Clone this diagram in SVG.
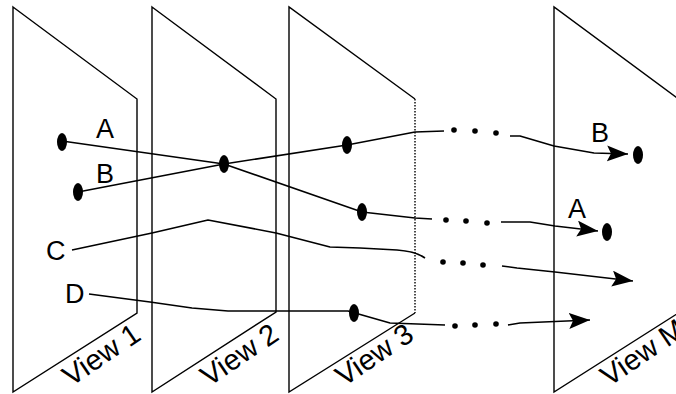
<svg xmlns="http://www.w3.org/2000/svg" width="676" height="394" viewBox="0 0 676 394">
<style>
.panel{fill:none;stroke:#000;stroke-width:1.4;stroke-linejoin:miter}
.conn{fill:none;stroke:#000;stroke-width:1.6;stroke-linejoin:round}
.pt{fill:#000}
.dot{fill:#000}
.lbl{font-family:"Liberation Sans",Arial,sans-serif;font-size:27px;fill:#000}
.view{font-family:"Liberation Sans",Arial,sans-serif;font-size:29px;fill:#000}
</style>
<defs>
<marker id="arr" markerUnits="userSpaceOnUse" markerWidth="24" markerHeight="18" refX="21" refY="8" orient="auto">
<path d="M0,0 L21,8 L0,16 L4,8 z" fill="#000"/>
</marker>
</defs>
<rect width="676" height="394" fill="#fff"/>
<g id="view1">
<path class="panel" d="M13,7 L137,99 L137,313 L13,392 Z"/>
<text class="view" transform="translate(71,387) rotate(-34)">View 1</text>
</g>
<g id="view2">
<path class="panel" d="M152,7 L276,99 L276,312 L152,392 Z"/>
<text class="view" transform="translate(209,387) rotate(-34)">View 2</text>
</g>
<g id="view3">
<path class="panel" d="M415,99 L289,7 L289,392 L415,313"/>
<path class="panel" d="M415,99 L415,313" stroke-dasharray="1.5,1.5" stroke-width="1"/>
<text class="view" transform="translate(344,387) rotate(-34)">View 3</text>
</g>
<g id="viewM">
<path class="panel" d="M680,100 L554,7 L554,392 L680,312" stroke-width="1.2"/>
<text class="view" transform="translate(609,387) rotate(-34)">View M</text>
</g>
<g id="connectors">
<path id="trackA1" class="conn" d="M62,141 L224,164 L362,212 L415,218 L432,219"/>
<path id="trackA2" class="conn" marker-end="url(#arr)" d="M501,222 L530,222 L555,226 L598,231"/>
<path id="trackB1" class="conn" d="M78,192 L224,164 L347,145 L415,132 L444,131"/>
<path id="trackB2" class="conn" marker-end="url(#arr)" d="M510,136 L520,136 L554,146 L594,153 L628,154"/>
<path id="trackC1" class="conn" d="M72,250 L152,233 L208,220 L276,233 L330,247 L360,248 L397,250 C410,251 418,253 425,258"/>
<path id="trackC2" class="conn" marker-end="url(#arr)" d="M502,266 L517,268 L555,272 L633,281"/>
<path id="trackD1" class="conn" d="M89,294 L150,302 L192,308 L228,311 L348,311 L362,315 L390,323 L445,325"/>
<path id="trackD2" class="conn" marker-end="url(#arr)" d="M508,325 L520,323 L590,320"/>
<g id="ellipsis">
<circle class="dot" cx="446" cy="220" r="2.8"/><circle class="dot" cx="466" cy="221" r="2.8"/><circle class="dot" cx="487" cy="223" r="2.8"/>
<circle class="dot" cx="454" cy="130" r="2.8"/><circle class="dot" cx="475" cy="131" r="2.8"/><circle class="dot" cx="496" cy="133" r="2.8"/>
<circle class="dot" cx="443" cy="262" r="2.8"/><circle class="dot" cx="463" cy="263" r="2.8"/><circle class="dot" cx="483" cy="265" r="2.8"/>
<circle class="dot" cx="455" cy="326" r="2.8"/><circle class="dot" cx="475" cy="325" r="2.8"/><circle class="dot" cx="496" cy="324" r="2.8"/>
</g>
</g>
<g id="points">
<ellipse class="pt" cx="62" cy="142" rx="5" ry="9"/>
<ellipse class="pt" cx="78" cy="192" rx="5" ry="9"/>
<ellipse class="pt" cx="224" cy="164" rx="5" ry="9"/>
<ellipse class="pt" cx="347" cy="145" rx="5" ry="9"/>
<ellipse class="pt" cx="362" cy="212" rx="5" ry="9"/>
<ellipse class="pt" cx="354" cy="313" rx="5" ry="9"/>
<ellipse class="pt" cx="638" cy="155" rx="5" ry="9"/>
<ellipse class="pt" cx="607" cy="232" rx="5" ry="9"/>
</g>
<g id="labels">
<text class="lbl" x="96" y="138">A</text>
<text class="lbl" x="96" y="183">B</text>
<text class="lbl" x="46" y="260">C</text>
<text class="lbl" x="65" y="303">D</text>
<text class="lbl" x="591" y="142">B</text>
<text class="lbl" x="568" y="218">A</text>
</g>
</svg>
